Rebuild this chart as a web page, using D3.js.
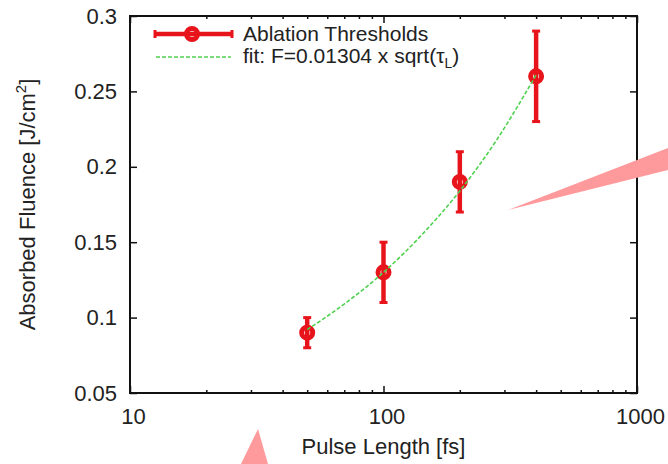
<!DOCTYPE html>
<html>
<head>
<meta charset="utf-8">
<script src="https://cdn.jsdelivr.net/npm/d3@7"></script>
<style>
  body { margin: 0; background: #fff; }
  text { font-family: "Liberation Sans", Arial, sans-serif; fill: #222; }
</style>
</head>
<body>
<script>
// data
var pulseLength = [50, 100, 200, 400];
var fluence = [0.09, 0.13, 0.19, 0.26];
var fluenceErr = [0.01, 0.02, 0.02, 0.03];
// fit curve, sampled
var fitTau = [50, 70, 100, 140, 200, 280, 400];
var fitF = [0.092, 0.109, 0.130, 0.154, 0.184, 0.218, 0.261];
var xMajor = [10, 100, 1000];
var xMinor = [20, 30, 40, 50, 60, 70, 80, 90, 200, 300, 400, 500, 600, 700, 800, 900];
var yTicks = [0.05, 0.1, 0.15, 0.2, 0.25, 0.3];
var legendLabels = ["Ablation Thresholds", "fit: F=0.01304 x sqrt("];
// pink call-out shapes (pixel positions over the figure)
var callouts = [
  [[508, 210], [668, 148], [668, 170]],
  [[258, 429], [241, 464], [268, 464]]
];

var W = 668, H = 464;
var margin = {top: 16, right: 31, bottom: 71, left: 130};
var w = W - margin.left - margin.right;
var h = H - margin.top - margin.bottom;
var red = '#e8141b', green = '#4fd24f';

var svg = d3.select('body').append('svg')
  .attr('width', W).attr('height', H);
svg.append('rect').attr('width', W).attr('height', H).attr('fill', '#fff');

var x = d3.scaleLog().domain([10, 1000]).range([0, w]);
var y = d3.scaleLinear().domain([0.05, 0.3]).range([h, 0]);

var g = svg.append('g')
  .attr('transform', 'translate(' + margin.left + ',' + margin.top + ')');

//axes (ticks point inward)
function axisStyle(sel) {
  sel.select('.domain').remove();
  sel.selectAll('line').attr('stroke', '#111').attr('stroke-width', 1.5);
  sel.selectAll('text').style('font-size', '22px').attr('fill', '#222');
}
g.append('g').attr('transform', 'translate(0,' + h + ')')
  .call(d3.axisBottom(x).tickValues(xMajor).tickSize(-7).tickPadding(15).tickFormat(d3.format('d')))
  .call(axisStyle)
  .selectAll('text').attr('dx', 3);
g.append('g').attr('transform', 'translate(0,' + h + ')')
  .call(d3.axisBottom(x).tickValues(xMinor).tickSize(-3).tickFormat(''))
  .call(axisStyle);
g.append('g')
  .call(d3.axisTop(x).tickValues(xMajor).tickSize(-7).tickFormat(''))
  .call(axisStyle);
g.append('g')
  .call(d3.axisTop(x).tickValues(xMinor).tickSize(-3).tickFormat(''))
  .call(axisStyle);
g.append('g')
  .call(d3.axisLeft(y).tickValues(yTicks).tickSize(-7).tickPadding(13).tickFormat(d3.format('')))
  .call(axisStyle);
g.append('g').attr('transform', 'translate(' + w + ',0)')
  .call(d3.axisRight(y).tickValues(yTicks).tickSize(-7).tickFormat(''))
  .call(axisStyle);

g.append('rect')
  .attr('width', w).attr('height', h)
  .attr('fill', 'none').attr('stroke', '#111').attr('stroke-width', 2);

//axis titles
svg.append('text')
  .attr('x', margin.left + w / 2).attr('y', 454)
  .attr('text-anchor', 'middle').style('font-size', '22px')
  .text('Pulse Length [fs]');
var yl = svg.append('text')
  .attr('transform', 'translate(35,' + (margin.top + h / 2) + ') rotate(-90)')
  .attr('text-anchor', 'middle').style('font-size', '22px');
yl.append('tspan').text('Absorbed Fluence [J/cm');
yl.append('tspan').attr('dy', -9).style('font-size', '15px').text('2');
yl.append('tspan').attr('dy', 9).text(']');

//data with error bars
var pts = pulseLength.map(function (t, i) {
  return {t: t, f: fluence[i], e: fluenceErr[i]};
});
var bars = g.append('g').selectAll('g').data(pts).enter().append('g');
bars.append('line')
  .attr('x1', d => x(d.t)).attr('x2', d => x(d.t))
  .attr('y1', d => y(d.f - d.e)).attr('y2', d => y(d.f + d.e))
  .attr('stroke', red).attr('stroke-width', 4.5);
bars.selectAll('.cap').data(d => [[d.t, d.f - d.e], [d.t, d.f + d.e]]).enter()
  .append('line')
  .attr('x1', d => x(d[0]) - 4).attr('x2', d => x(d[0]) + 4)
  .attr('y1', d => y(d[1])).attr('y2', d => y(d[1]))
  .attr('stroke', red).attr('stroke-width', 3);
bars.append('circle')
  .attr('cx', d => x(d.t)).attr('cy', d => y(d.f)).attr('r', 5.5)
  .attr('fill', 'none').attr('stroke', red).attr('stroke-width', 5);

//fit line
var fitLine = d3.line().curve(d3.curveMonotoneX)
  .x(d => x(d[0])).y(d => y(d[1]));
g.append('path')
  .datum(fitTau.map((t, i) => [t, fitF[i]]))
  .attr('d', fitLine)
  .attr('fill', 'none').attr('stroke', green)
  .attr('stroke-width', 1.6).attr('stroke-dasharray', '4,2');

//legend
var leg = svg.append('g');
leg.append('line').attr('x1', 155).attr('x2', 232).attr('y1', 34).attr('y2', 34)
  .attr('stroke', red).attr('stroke-width', 4.5);
leg.selectAll('.lc').data([155, 232]).enter().append('line')
  .attr('x1', d => d).attr('x2', d => d).attr('y1', 30).attr('y2', 38)
  .attr('stroke', red).attr('stroke-width', 3);
leg.append('circle').attr('cx', 192).attr('cy', 34).attr('r', 5.5)
  .attr('fill', 'none').attr('stroke', red).attr('stroke-width', 5);
leg.append('line').attr('x1', 156).attr('x2', 231).attr('y1', 57).attr('y2', 57)
  .attr('stroke', green).attr('stroke-width', 1.6).attr('stroke-dasharray', '4,2');
leg.append('text').attr('x', 243).attr('y', 41).style('font-size', '21px')
  .text(legendLabels[0]);
var lt = leg.append('text').attr('x', 243).attr('y', 62.5).style('font-size', '21px');
lt.append('tspan').text(legendLabels[1]);
lt.append('tspan').text('\u03C4');
lt.append('tspan').attr('dy', 5).style('font-size', '14px').text('L');
lt.append('tspan').attr('dy', -5).text(')');

//call-outs
svg.selectAll('.callout').data(callouts).enter().append('polygon')
  .attr('points', d => d.map(p => p.join(',')).join(' '))
  .attr('fill', '#ff9a9c');
</script>
</body>
</html>
